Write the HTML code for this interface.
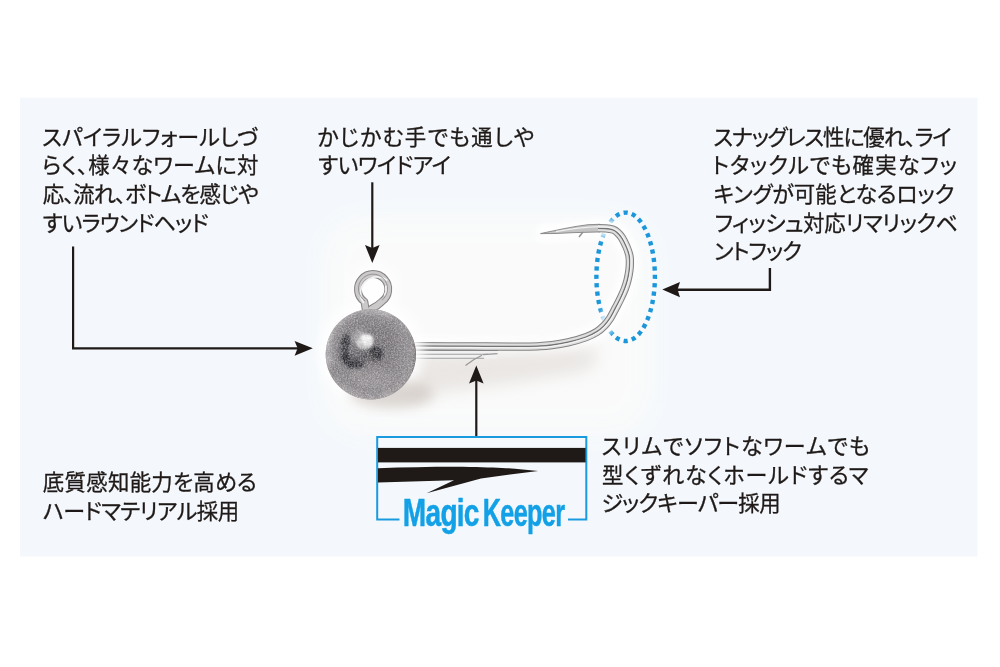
<!DOCTYPE html>
<html lang="ja">
<head>
<meta charset="utf-8">
<title>Magic Keeper</title>
<style>
html,body{margin:0;padding:0;background:#fff;}
body{width:1000px;height:667px;overflow:hidden;position:relative;font-family:"Liberation Sans","Noto Sans CJK JP",sans-serif;}
svg{position:absolute;left:0;top:0;display:block;}
.t{font-family:"Liberation Sans","Noto Sans CJK JP",sans-serif;font-size:22px;fill:#1f1a18;font-weight:400;stroke:#1f1a18;stroke-width:0.3px;font-feature-settings:"palt" 1;}
.mk{font-family:"Liberation Sans",sans-serif;font-weight:700;font-size:38px;fill:#12a0e6;stroke:#12a0e6;stroke-width:0.5px;stroke-linejoin:round;}
</style>
</head>
<body>
<svg width="1000" height="667" viewBox="0 0 1000 667">
<defs>
<radialGradient id="ball" gradientUnits="userSpaceOnUse" cx="368" cy="352" r="50" fx="366" fy="350">
<stop offset="0" stop-color="#646065"/>
<stop offset="0.45" stop-color="#757176"/>
<stop offset="0.75" stop-color="#868286"/>
<stop offset="0.92" stop-color="#949093"/>
<stop offset="1" stop-color="#827e81"/>
</radialGradient>
<linearGradient id="shank" x1="0" y1="0" x2="0" y2="1">
<stop offset="0" stop-color="#a9a9a9"/>
<stop offset="0.2" stop-color="#ededed"/>
<stop offset="0.45" stop-color="#9a9a9a"/>
<stop offset="0.6" stop-color="#e6e6e6"/>
<stop offset="0.85" stop-color="#8c8c8c"/>
<stop offset="1" stop-color="#c8c8c8"/>
</linearGradient>
<filter id="blur1" x="-30%" y="-30%" width="160%" height="160%"><feGaussianBlur stdDeviation="1"/></filter>
<filter id="blur15" x="-30%" y="-30%" width="160%" height="160%"><feGaussianBlur stdDeviation="1.5"/></filter>
<filter id="blur8" x="-30%" y="-50%" width="160%" height="200%"><feGaussianBlur stdDeviation="8"/></filter>
<filter id="blur14" x="-30%" y="-30%" width="160%" height="160%"><feGaussianBlur stdDeviation="14"/></filter>
<filter id="blur2" x="-30%" y="-30%" width="160%" height="160%"><feGaussianBlur stdDeviation="2"/></filter>
<filter id="blur3" x="-30%" y="-30%" width="160%" height="160%"><feGaussianBlur stdDeviation="3"/></filter>
<filter id="blur6" x="-30%" y="-30%" width="160%" height="160%"><feGaussianBlur stdDeviation="6"/></filter>
<filter id="grain" x="0" y="0" width="100%" height="100%">
<feTurbulence type="fractalNoise" baseFrequency="0.55" numOctaves="2" seed="7" result="n"/>
<feColorMatrix in="n" type="matrix" values="0 0 0 0 0.5  0 0 0 0 0.5  0 0 0 0 0.5  1.6 1.6 0 0 -1.25" result="g"/>
<feComposite in="g" in2="SourceGraphic" operator="in"/>
</filter>
<filter id="blotch" x="0" y="0" width="100%" height="100%">
<feTurbulence type="fractalNoise" baseFrequency="0.09" numOctaves="3" seed="4" result="n"/>
<feColorMatrix in="n" type="matrix" values="0 0 0 0 0.2  0 0 0 0 0.19  0 0 0 0 0.2  2.4 0 0 0 -0.95" result="g"/>
<feComposite in="g" in2="SourceGraphic" operator="in"/>
</filter>
<filter id="grainw" x="0" y="0" width="100%" height="100%">
<feTurbulence type="fractalNoise" baseFrequency="0.7" numOctaves="2" seed="21" result="n"/>
<feColorMatrix in="n" type="matrix" values="0 0 0 0 1  0 0 0 0 1  0 0 0 0 1  0 2.2 2.2 0 -1.9" result="g"/>
<feComposite in="g" in2="SourceGraphic" operator="in"/>
</filter>
<clipPath id="ballclip"><circle cx="370.8" cy="354.4" r="45.1"/></clipPath>
</defs>
<rect x="0" y="0" width="1000" height="667" fill="#ffffff"/>
<g id="panel"><rect x="19.9" y="97.6" width="957.6" height="458.9" fill="#f4f8fc"/>
<rect x="325" y="218" width="325" height="215" rx="40" fill="#fbfbfa" opacity="0.95" filter="url(#blur14)"/></g>

<!-- dotted ellipse -->
<g id="ellipse"><ellipse cx="625.65" cy="276.8" rx="29.25" ry="64.2" fill="none" stroke="#1b96da" stroke-width="4.4" pathLength="36" stroke-dasharray="0.5 0.5" stroke-dashoffset="0.25"/></g>

<!-- hook -->
<g id="hook" fill="none" stroke-linecap="butt" stroke-linejoin="round">
<path d="M415.0 346.2 C424.2 346.2 452.5 346.3 470.0 346.4 C487.5 346.5 508.3 346.6 520.0 346.6 C531.7 346.6 534.7 346.4 540.0 346.2 C545.3 346.0 547.3 345.8 552.0 345.2 C556.7 344.6 562.3 343.7 568.0 342.4 C573.7 341.1 581.2 339.0 586.0 337.2 C590.8 335.4 594.0 333.7 597.0 331.8 C600.0 329.9 601.8 328.2 604.0 326.0 C606.2 323.8 608.1 321.4 610.0 318.5 C611.9 315.6 613.7 311.8 615.4 308.5 C617.1 305.2 618.9 302.0 620.4 298.8 C621.9 295.6 623.4 292.5 624.6 289.4 C625.8 286.3 626.8 283.2 627.6 280.0 C628.4 276.8 629.0 273.4 629.4 270.4 C629.8 267.4 629.9 264.6 629.9 262.0 C629.9 259.4 629.9 257.6 629.3 255.0 C628.7 252.4 627.6 249.4 626.4 246.5 C625.1 243.6 623.3 239.9 621.8 237.5 C620.3 235.1 618.8 233.5 617.2 232.2 C615.7 230.8 614.4 230.1 612.5 229.4 C610.6 228.8 608.4 228.5 606.0 228.3 C603.6 228.1 599.3 228.1 598.0 228.1 L545 233" stroke="#ffffff" stroke-width="18" opacity="0.9" filter="url(#blur3)" stroke-linecap="round"/>
<path d="M405 356 L600 348 L590 370 L520 382 L410 396 Z" fill="#d9d3ce" stroke="none" opacity="0.5" filter="url(#blur8)"/>
<path d="M418 363 H530" stroke="#d3ccc6" stroke-width="9" opacity="0.7" filter="url(#blur3)"/>
<rect x="415" y="350" width="81.5" height="8.6" fill="#f1f1f1" stroke="none"/>
<path d="M415 354.3 H488 M415 358.3 H484" stroke="#a0a0a0" stroke-width="1.1"/>
<path d="M415 350.2 H498" stroke="#6c6c6c" stroke-width="1.3"/>
<path d="M497.5 353.6 L483 354.6 M482 355.2 L474 359.5 L465.5 365.5" stroke="#9a9a9a" stroke-width="1.3"/>
<path d="M540.5 233.6 C556 230.3 572 226.6 588 224.7 L600 224.3 L600 231.9 L572 232.7 L556 233.5 Z" fill="#c4c4c4" stroke="#858585" stroke-width="0.9"/>
<path d="M556 231.6 C572 228.6 586 227 600 226.6" stroke="#f0f0f0" stroke-width="1.2"/>
<path d="M583 232 L579 237" stroke="#8f8f8f" stroke-width="1.4"/>
<path d="M415.0 346.2 C424.2 346.2 452.5 346.3 470.0 346.4 C487.5 346.5 508.3 346.6 520.0 346.6 C531.7 346.6 534.7 346.4 540.0 346.2 C545.3 346.0 547.3 345.8 552.0 345.2 C556.7 344.6 562.3 343.7 568.0 342.4 C573.7 341.1 581.2 339.0 586.0 337.2 C590.8 335.4 594.0 333.7 597.0 331.8 C600.0 329.9 601.8 328.2 604.0 326.0 C606.2 323.8 608.1 321.4 610.0 318.5 C611.9 315.6 613.7 311.8 615.4 308.5 C617.1 305.2 618.9 302.0 620.4 298.8 C621.9 295.6 623.4 292.5 624.6 289.4 C625.8 286.3 626.8 283.2 627.6 280.0 C628.4 276.8 629.0 273.4 629.4 270.4 C629.8 267.4 629.9 264.6 629.9 262.0 C629.9 259.4 629.9 257.6 629.3 255.0 C628.7 252.4 627.6 249.4 626.4 246.5 C625.1 243.6 623.3 239.9 621.8 237.5 C620.3 235.1 618.8 233.5 617.2 232.2 C615.7 230.8 614.4 230.1 612.5 229.4 C610.6 228.8 608.4 228.5 606.0 228.3 C603.6 228.1 599.3 228.1 598.0 228.1" stroke="#828282" stroke-width="8.3"/>
<path d="M415.0 346.2 C424.2 346.2 452.5 346.3 470.0 346.4 C487.5 346.5 508.3 346.6 520.0 346.6 C531.7 346.6 534.7 346.4 540.0 346.2 C545.3 346.0 547.3 345.8 552.0 345.2 C556.7 344.6 562.3 343.7 568.0 342.4 C573.7 341.1 581.2 339.0 586.0 337.2 C590.8 335.4 594.0 333.7 597.0 331.8 C600.0 329.9 601.8 328.2 604.0 326.0 C606.2 323.8 608.1 321.4 610.0 318.5 C611.9 315.6 613.7 311.8 615.4 308.5 C617.1 305.2 618.9 302.0 620.4 298.8 C621.9 295.6 623.4 292.5 624.6 289.4 C625.8 286.3 626.8 283.2 627.6 280.0 C628.4 276.8 629.0 273.4 629.4 270.4 C629.8 267.4 629.9 264.6 629.9 262.0 C629.9 259.4 629.9 257.6 629.3 255.0 C628.7 252.4 627.6 249.4 626.4 246.5 C625.1 243.6 623.3 239.9 621.8 237.5 C620.3 235.1 618.8 233.5 617.2 232.2 C615.7 230.8 614.4 230.1 612.5 229.4 C610.6 228.8 608.4 228.5 606.0 228.3 C603.6 228.1 599.3 228.1 598.0 228.1" stroke="#dedede" stroke-width="6.3"/>
<path d="M415.0 346.0 C424.2 346.0 452.5 346.1 470.0 346.2 C487.5 346.3 508.3 346.4 520.0 346.4 C531.7 346.4 534.7 346.2 540.0 346.0 C545.3 345.8 547.3 345.6 552.0 345.0 C556.6 344.4 562.3 343.5 568.0 342.2 C573.6 340.9 581.1 338.8 585.9 337.0 C590.8 335.2 593.9 333.5 596.9 331.6 C599.9 329.8 601.7 328.1 603.9 325.9 C606.0 323.7 607.9 321.3 609.8 318.4 C611.7 315.5 613.5 311.7 615.2 308.4 C617.0 305.1 618.7 301.9 620.2 298.7 C621.8 295.5 623.2 292.5 624.4 289.3 C625.6 286.2 626.6 283.1 627.4 280.0 C628.2 276.8 628.8 273.4 629.2 270.4 C629.6 267.4 629.7 264.6 629.7 262.0 C629.7 259.4 629.7 257.6 629.1 255.0 C628.5 252.5 627.5 249.5 626.2 246.6 C625.0 243.7 623.2 240.0 621.6 237.6 C620.1 235.2 618.6 233.7 617.1 232.4 C615.5 231.0 614.3 230.2 612.4 229.6 C610.6 228.9 608.4 228.7 606.0 228.5 C603.6 228.3 599.3 228.3 598.0 228.3" stroke="#727272" stroke-width="1.3"/>
<path d="M415.0 347.4 C424.2 347.4 452.5 347.5 470.0 347.6 C487.5 347.7 508.3 347.8 520.0 347.8 C531.7 347.8 534.7 347.6 540.1 347.4 C545.4 347.2 547.5 347.0 552.2 346.4 C556.9 345.8 562.6 344.9 568.3 343.6 C574.0 342.2 581.5 340.1 586.4 338.3 C591.3 336.5 594.6 334.7 597.6 332.8 C600.7 330.9 602.6 329.1 604.9 326.8 C607.1 324.6 609.1 322.1 611.0 319.2 C612.9 316.2 614.7 312.4 616.5 309.1 C618.2 305.8 619.9 302.5 621.5 299.3 C623.0 296.1 624.5 293.0 625.7 289.8 C626.9 286.7 628.0 283.5 628.8 280.3 C629.6 277.1 630.2 273.6 630.6 270.6 C631.0 267.5 631.1 264.6 631.1 262.0 C631.1 259.4 631.1 257.4 630.5 254.7 C629.9 252.1 628.8 249.0 627.5 246.0 C626.2 243.0 624.4 239.3 622.8 236.9 C621.2 234.4 619.6 232.7 618.0 231.3 C616.3 229.9 614.9 229.0 612.9 228.3 C610.9 227.6 608.6 227.3 606.1 227.1 C603.6 226.9 599.4 226.9 598.0 226.9" stroke="#f4f4f4" stroke-width="1.2"/>
</g>

<!-- jig head -->
<g id="head">
<circle cx="371" cy="352" r="52" fill="#ffffff" opacity="0.9" filter="url(#blur6)"/>
<circle cx="373" cy="288" r="24" fill="#ffffff" opacity="0.8" filter="url(#blur6)"/>
<ellipse cx="392" cy="394" rx="42" ry="14" fill="#cdc6c0" opacity="0.7" filter="url(#blur6)"/>
<g id="eye" fill="none" stroke-linejoin="round" stroke-linecap="round">
<path d="M365.8 310 L364.4 301.65 A15.2 15.2 0 1 1 381.8 301.65 Q378 305.5 371.5 308.8" stroke="#858283" stroke-width="7.8"/>
<path d="M365.8 310 L364.4 301.65 A15.2 15.2 0 1 1 381.8 301.65 Q378 305.5 371.5 308.8" stroke="#cbc9c9" stroke-width="5.8"/>
<path d="M363.3 302.4 A16.4 16.4 0 0 1 386.6 280" stroke="#f2f1f1" stroke-width="1.8"/>
<path d="M364.9 300.9 A14.6 14.6 0 1 1 382.3 300" stroke="#8f8c8d" stroke-width="0.9"/>
<path d="M384.5 295 A13 13 0 0 0 385.8 286" stroke="#f4f3f3" stroke-width="1.5"/>
</g>
<circle cx="370.8" cy="354.4" r="45.1" fill="url(#ball)"/>
<g clip-path="url(#ballclip)">
<path d="M327 364 A44 44 0 0 1 394 314" fill="none" stroke="#c6c1c4" stroke-width="11" opacity="0.85" filter="url(#blur3)"/>
<path d="M338 388 A45 45 0 0 0 404 388" fill="none" stroke="#b3aeb1" stroke-width="10" opacity="0.75" filter="url(#blur3)"/>
<ellipse cx="371" cy="377" rx="24" ry="10" fill="#a5a0a3" opacity="0.5" filter="url(#blur3)"/>
<path d="M350 336 C343 342 342 352 346 359 C350 365 356 366 362 362" fill="none" stroke="#1d1b20" stroke-width="8.5" opacity="0.95" filter="url(#blur15)"/>
<ellipse cx="376" cy="353.5" rx="8" ry="7" fill="#1d1b20" opacity="0.97" filter="url(#blur15)"/>
<ellipse cx="362" cy="357" rx="12" ry="5" fill="#47444a" opacity="0.7" filter="url(#blur2)"/>
<ellipse cx="386" cy="340" rx="10" ry="14" fill="#6c686d" opacity="0.5" filter="url(#blur3)"/>
<ellipse cx="365" cy="341.5" rx="9" ry="7.4" fill="#ffffff" opacity="0.97" filter="url(#blur1)" transform="rotate(-20 365 341.5)"/>
<ellipse cx="357" cy="336" rx="9" ry="4.5" fill="#d8d6d8" opacity="0.55" filter="url(#blur2)" transform="rotate(-35 357 336)"/>
<path d="M413.5 333 C417.5 344 417.5 362 413.5 374" fill="none" stroke="#4d443c" stroke-width="3.2" opacity="0.75" filter="url(#blur1)"/>
<circle cx="370.8" cy="354.4" r="45.1" fill="#000" filter="url(#blotch)" opacity="0.5"/>
<circle cx="370.8" cy="354.4" r="45.1" fill="#000" filter="url(#grain)" opacity="0.4"/>
<circle cx="370.8" cy="354.4" r="45.1" fill="#fff" filter="url(#grainw)" opacity="0.28"/>
</g>
</g>

<!-- arrows -->
<g id="arrows" fill="#1f1a18" stroke="#1f1a18" stroke-width="2.2" stroke-linejoin="miter">
<path d="M73.1 246.5 V348.3 H299" fill="none" stroke-width="2.2"/>
<path d="M312.8 348.3 L294.6 341 L297.6 348.3 L294.6 355.7 Z" stroke="none"/>
<path d="M372.3 182.3 V249" fill="none"/>
<path d="M372.3 263 L365 245 L372.3 248 L379.6 245 Z" stroke="none"/>
<path d="M769.9 268 V289.8 H677" fill="none" stroke-width="2.4"/>
<path d="M662.3 289.6 L680 282 L677.6 289.6 L680 297.2 Z" stroke="none"/>
<path d="M476.3 437 V380" fill="none"/>
<path d="M476.3 365.5 L469 383.5 L476.3 380.5 L483.6 383.5 Z" stroke="none"/>
</g>

<!-- magic keeper box -->
<g id="mkbox">
<path d="M399.5 519.4 H377.2 V437.1 H586.3 V519.4 H568" fill="none" stroke="#1a9be0" stroke-width="2"/>
<rect x="378" y="447.9" width="207.6" height="14.5" fill="#1f1a18"/>
<path d="M378 468.3 C410 467.2 440 466.6 470 466.9 C490 467.2 505 467.9 515 468.7 L538.2 471 L510 474.6 L481 478.4 L426.6 493.2 L454 480.2 L378 482.5 Z" fill="#1f1a18"/>
<g id="mktext" opacity="0.999">
<text class="mk" transform="translate(402.85,525.9) scale(0.7392,1)" letter-spacing="-1.0">Magic</text>
<text class="mk" transform="translate(482.80,525.9) scale(0.6645,1)" letter-spacing="-1.0">Keeper</text>
</g>
</g>

<!-- texts -->
<g id="texts" opacity="0.999">
<text class="t" x="42.20" y="144.5" textLength="216.20" lengthAdjust="spacing">スパイラルフォールしづ</text>
<text class="t" x="42.10" y="173.2" textLength="216.74" lengthAdjust="spacing">らく、<tspan font-size="21.4px" letter-spacing="0.4">様々</tspan>なワームに<tspan font-size="21.4px" letter-spacing="0.4">対</tspan></text>
<text class="t" x="42.70" y="201.9" textLength="216.21" lengthAdjust="spacing"><tspan font-size="21.4px" letter-spacing="0.4">応</tspan>、<tspan font-size="21.4px" letter-spacing="0.4">流</tspan>れ、ボトムを<tspan font-size="21.4px" letter-spacing="0.4">感</tspan>じや</text>
<text class="t" x="42.75" y="230.6" textLength="166.09" lengthAdjust="spacing">すいラウンドヘッド</text>
<text class="t" x="317.25" y="144.5" textLength="217.15" lengthAdjust="spacing">かじかむ<tspan font-size="21.4px" letter-spacing="0.4">手</tspan>でも<tspan font-size="21.4px" letter-spacing="0.4">通</tspan>しや</text>
<text class="t" x="318.25" y="173.2" textLength="132.74" lengthAdjust="spacing">すいワイドアイ</text>
<text class="t" x="713.40" y="144.5" textLength="238.30" lengthAdjust="spacing">スナッグレス<tspan font-size="21.4px" letter-spacing="0.4">性</tspan>に<tspan font-size="21.4px" letter-spacing="0.4">優</tspan>れ、ライ</text>
<text class="t" x="712.10" y="173.2" textLength="244.86" lengthAdjust="spacing">トタックルでも<tspan font-size="21.4px" letter-spacing="0.4">確実</tspan>なフッ</text>
<text class="t" x="713.60" y="201.9" textLength="240.74" lengthAdjust="spacing">キングが<tspan font-size="21.4px" letter-spacing="0.4">可能</tspan>となるロック</text>
<text class="t" x="714.70" y="230.6" textLength="243.27" lengthAdjust="spacing">フィッシュ<tspan font-size="21.4px" letter-spacing="0.4">対応</tspan>リマリックベ</text>
<text class="t" x="714.05" y="259.3" textLength="87.84" lengthAdjust="spacing">ントフック</text>
<text class="t" x="42.70" y="490.0" textLength="213.95" lengthAdjust="spacing"><tspan font-size="21.4px" letter-spacing="0.4">底質感知能力</tspan>を<tspan font-size="21.4px" letter-spacing="0.4">高</tspan>める</text>
<text class="t" x="42.85" y="518.5" textLength="196.80" lengthAdjust="spacing">ハードマテリアル<tspan font-size="21.4px" letter-spacing="0.4">採用</tspan></text>
<text class="t" x="601.70" y="454.0" textLength="268.03" lengthAdjust="spacing">スリムでソフトなワームでも</text>
<text class="t" x="601.95" y="482.5" textLength="266.57" lengthAdjust="spacing"><tspan font-size="21.4px" letter-spacing="0.4">型</tspan>くずれなくホールドするマ</text>
<text class="t" x="601.40" y="511.0" textLength="179.58" lengthAdjust="spacing">ジックキーパー<tspan font-size="21.4px" letter-spacing="0.4">採用</tspan></text>
</g>
</svg>
</body>
</html>
